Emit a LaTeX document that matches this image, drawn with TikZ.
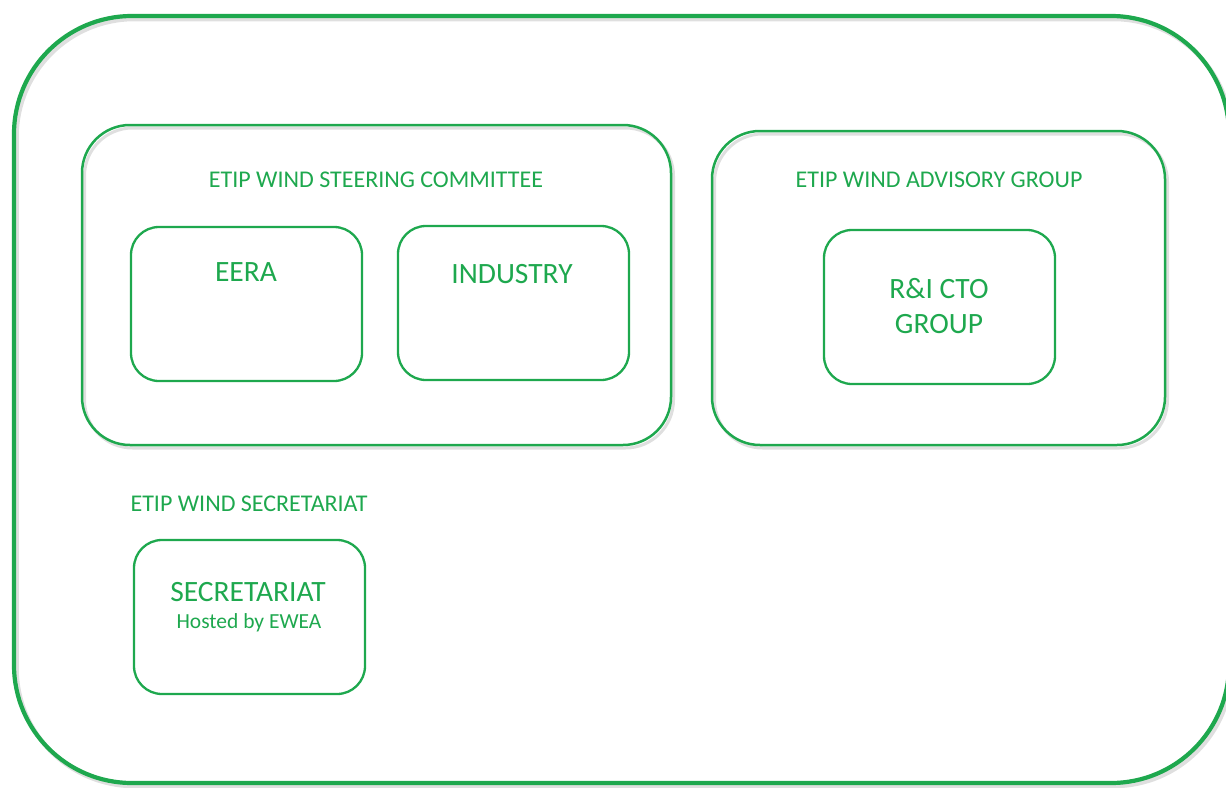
\documentclass[tikz,border=0pt]{standalone}
\usepackage{fontspec}
\setmainfont{Carlito}
\definecolor{eg}{RGB}{30,168,78}
\begin{document}
\begin{tikzpicture}[x=1pt,y=-1pt,
  shad/.style={draw=black!45,opacity=0.28,line width=4.5pt,shift={(2.5,3)}},
  outerbox/.style={draw=eg,line width=4.2pt,rounded corners=118pt},
  groupbox/.style={draw=eg,line width=2.5pt,rounded corners=48pt},
  unitbox/.style={draw=eg,line width=2.3pt,rounded corners=28pt},
  ttl/.style={text=eg,font=\fontsize{24}{28}\selectfont},
  big/.style={text=eg,font=\fontsize{29.5}{35}\selectfont,align=center},
  small/.style={text=eg,font=\fontsize{21.5}{25}\selectfont}]
\useasboundingbox (0,0) rectangle (1226,787);
\clip (0,0) rectangle (1226,787);
% outer
\draw[shad,rounded corners=118pt] (14,16) rectangle (1229,783);
\draw[outerbox] (14,16) rectangle (1229,783);
% steering committee
\draw[shad,rounded corners=48pt,line width=3pt] (82,125) rectangle (671,445);
\draw[groupbox] (82,125) rectangle (671,445);
\node[ttl] (sct) at (376,180) {ETIP WIND STEERING COMMITTEE};
\draw[unitbox] (131,227) rectangle (362,381);
\node[big] (eera) at (246,272) {EERA};
\draw[unitbox] (398,226) rectangle (629,380);
\node[big] (ind) at (512,274) {INDUSTRY};
% advisory
\draw[shad,rounded corners=48pt,line width=3pt] (712,131) rectangle (1165,445);
\draw[groupbox] (712,131) rectangle (1165,445);
\node[ttl] (agt) at (939,180) {ETIP WIND ADVISORY GROUP};
\draw[unitbox] (824,230) rectangle (1055,384);
\node[big] (cto) at (939,306) {R\&I CTO\\GROUP};
% secretariat
\node[ttl] (sect) at (249,504) {ETIP WIND SECRETARIAT};
\draw[unitbox] (134,540) rectangle (365,694);
\node[big] (sec) at (248,592) {SECRETARIAT};
\node[small] (host) at (249,623) {Hosted by EWEA};
\end{tikzpicture}
\end{document}
